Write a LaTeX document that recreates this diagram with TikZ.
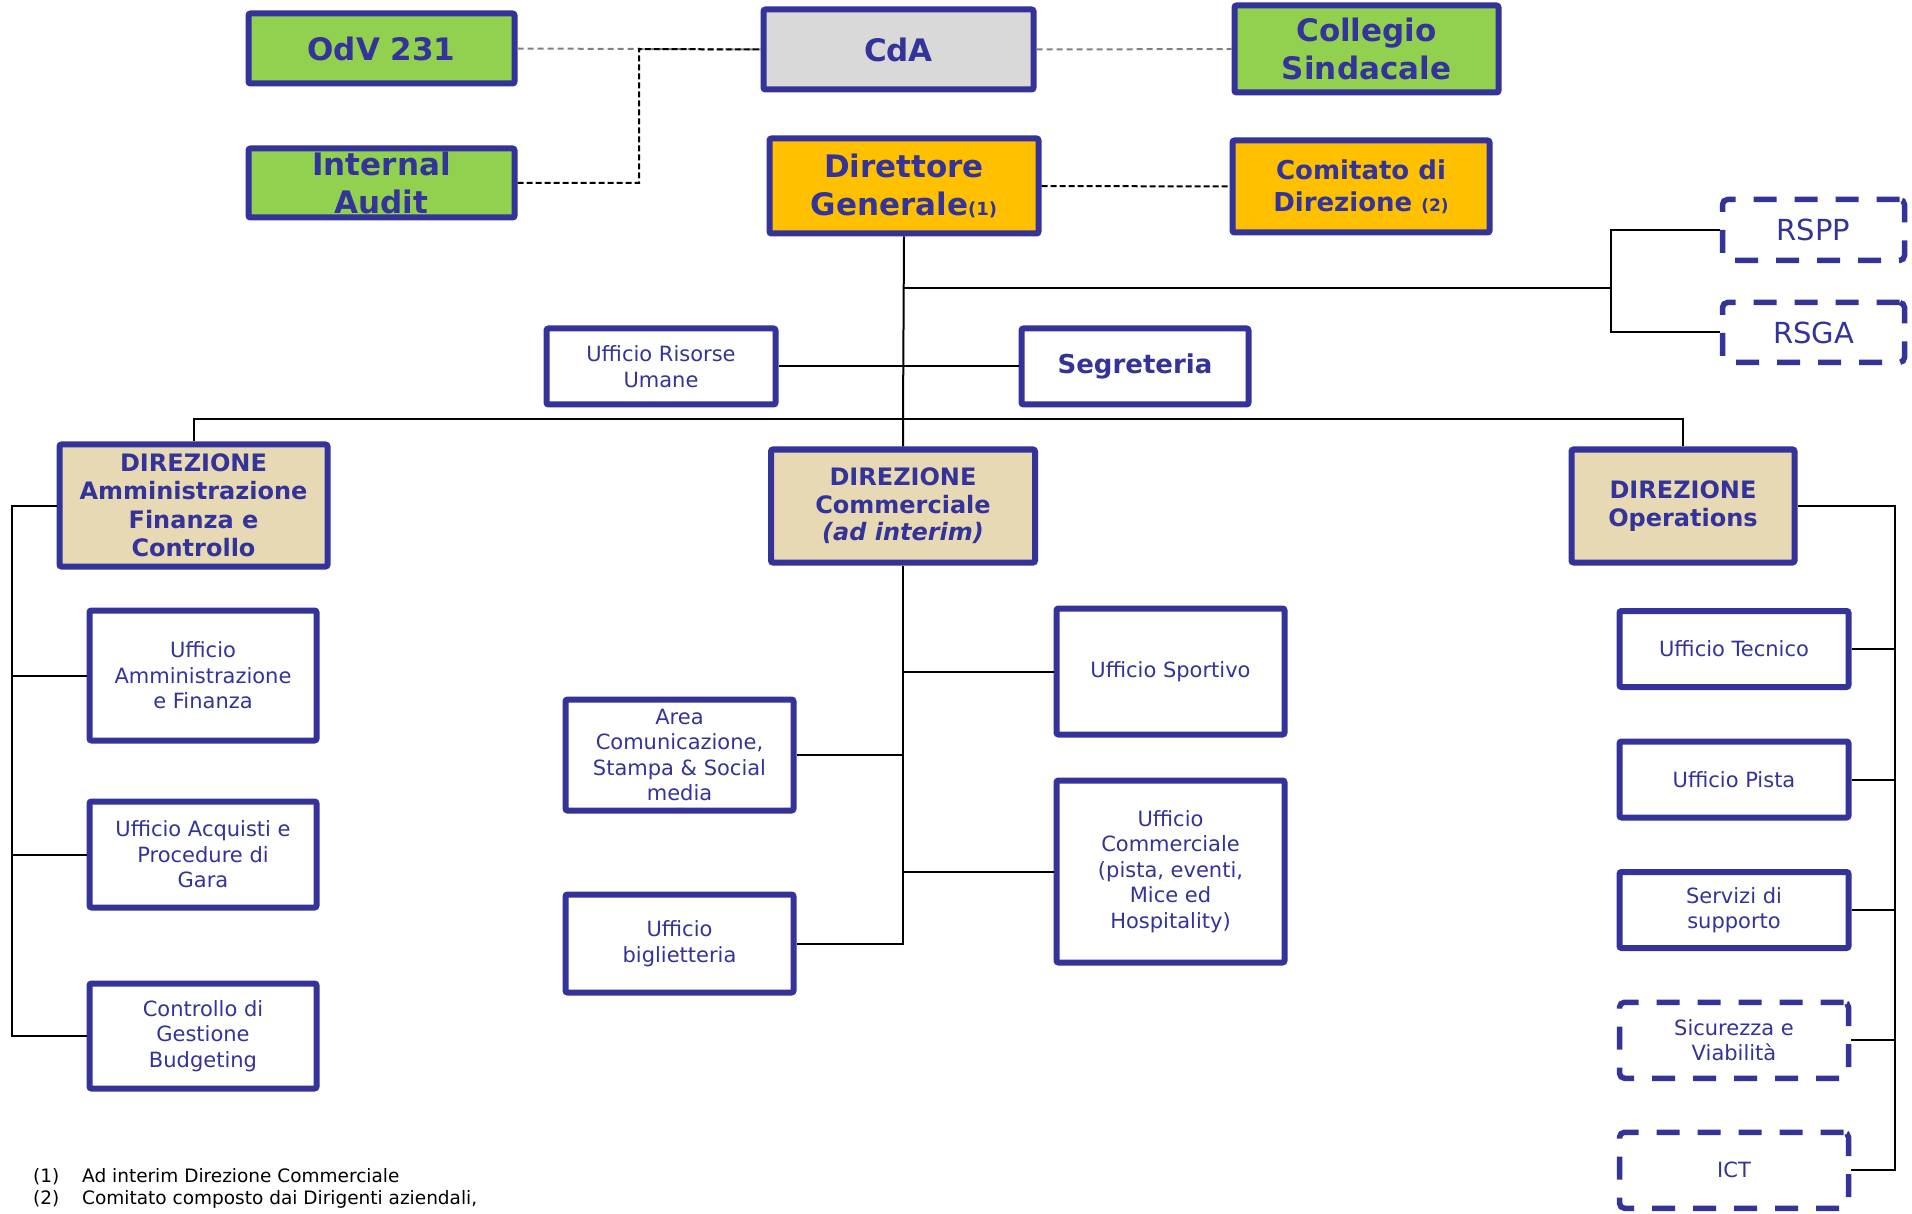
\documentclass[tikz,border=0pt]{standalone}
\usepackage{fontspec}
\setmainfont{DejaVu Sans}
\usepackage{xcolor}
\definecolor{colorBorder}{HTML}{333399}
\definecolor{colorBoard}{HTML}{92D050}
\definecolor{colorGeneral}{HTML}{FFC000}
\definecolor{colorDirection}{HTML}{E8D9B5}
\definecolor{colorCdA}{HTML}{D9D9D9}
\colorlet{colorLink}{black}
\colorlet{colorControl}{black!50}
\usepackage{tikz}
\usetikzlibrary{positioning}
\tikzset{
  box/.style={draw=colorBorder, line width=6pt, rounded corners=2pt, text=colorBorder, align=center, inner sep=0pt},
  boardbox/.style={box, fill=colorBoard, font=\bfseries\fontsize{31}{38}\selectfont},
  generalbox/.style={box, fill=colorGeneral},
  dirbox/.style={box, fill=colorDirection, font=\bfseries\fontsize{24}{28.5}\selectfont},
  unitbox/.style={box, fill=white, minimum width=227, font=\fontsize{21}{25.5}\selectfont},
  dashbox/.style={unitbox, line width=5.5pt, rounded corners=5pt, dash pattern=on 23pt off 18pt},
  link/.style={line width=2pt, colorLink},
  dlink/.style={line width=2pt, colorLink, dash pattern=on 6pt off 3pt},
  glink/.style={line width=2pt, colorControl, dash pattern=on 6pt off 4pt},
  note/.style={anchor=west, inner sep=0pt, font=\fontsize{18.5}{22}\selectfont}
}

\begin{document}
\begin{tikzpicture}[x=1pt, y=-1pt, node distance=48.5pt]
\useasboundingbox (0,0) rectangle (1912,1214);
% governance
\node[boardbox, minimum width=266, minimum height=70] (odv) at (381.5,48.5) {OdV 231};
\node[boardbox, fill=colorCdA, minimum width=270, minimum height=80] (cda) at (898.5,49.5) {CdA};
\node[boardbox, minimum width=264, minimum height=87] (cs) at (1366.5,49) {Collegio\\Sindacale};
\node[boardbox, minimum width=266, minimum height=69] (ia) at (381.5,183) {Internal\\Audit};
\node[generalbox, minimum width=269, minimum height=95, font=\bfseries\fontsize{31}{38}\selectfont] (dg) at (904,186) {Direttore\\Generale{\fontsize{18}{20}\selectfont(1)}};
\node[generalbox, minimum width=257, minimum height=92, font=\bfseries\fontsize{26}{32}\selectfont] (cdd) at (1361,186.5) {Comitato di\\Direzione {\fontsize{17}{20}\selectfont(2)}};
\node[dashbox, minimum width=182, minimum height=61, font=\fontsize{29}{34}\selectfont] (rspp) at (1813.5,230) {RSPP};
\node[dashbox, minimum width=182, minimum height=60, font=\fontsize{29}{34}\selectfont] (rsga) at (1813.5,332.5) {RSGA};
\node[unitbox, minimum width=229, minimum height=76] (uru) at (661,366.5) {Ufficio Risorse\\Umane};
\node[unitbox, minimum width=227, minimum height=76, font=\bfseries\fontsize{26}{30}\selectfont] (seg) at (1135,366.5) {Segreteria};
% directions
\node[dirbox, minimum width=268, minimum height=122] (dafc) at (193.5,505.5) {DIREZIONE\\Amministrazione\\Finanza e\\Controllo};
\node[dirbox, minimum width=264, minimum height=113, font=\bfseries\fontsize{24}{27.5}\selectfont] (dcom) at (903,506) {DIREZIONE\\Commerciale\\\textit{(ad interim)}};
\node[dirbox, minimum width=223, minimum height=113] (dops) at (1683,506) {DIREZIONE\\Operations};
% offices
\node[unitbox, minimum height=130] (uaf) at (203,675.5) {Ufficio\\Amministrazione\\e Finanza};
\node[unitbox, minimum height=106, below=55pt of uaf] (uap) {Ufficio Acquisti e\\Procedure di\\Gara};
\node[unitbox, minimum height=105, below=70pt of uap] (cdg) {Controllo di\\Gestione\\Budgeting};
\node[unitbox, minimum width=228, minimum height=111] (acs) at (679.5,755) {Area\\Comunicazione,\\Stampa \& Social\\media};
\node[unitbox, minimum width=228, minimum height=98, below=78pt of acs] (ubi) {Ufficio\\biglietteria};
\node[unitbox, minimum width=228, minimum height=126] (usp) at (1170.5,671.5) {Ufficio Sportivo};
\node[unitbox, minimum width=228, minimum height=182, below=40pt of usp] (uco) {Ufficio\\Commerciale\\(pista, eventi,\\Mice ed\\Hospitality)};
\node[unitbox, minimum width=229, minimum height=76] (ute) at (1734,649) {Ufficio Tecnico};
\node[unitbox, minimum width=229, minimum height=76, below=of ute] (upi) {Ufficio Pista};
\node[unitbox, minimum width=229, minimum height=76, below=of upi] (ssu) {Servizi di\\supporto};
\node[dashbox, minimum width=229, minimum height=76, below=of ssu] (sev) {Sicurezza e\\Viabilità};
\node[dashbox, minimum width=229, minimum height=76, below=of sev] (ict) {ICT};
% notes
\node[note] (fn1) at (33,1177) {\makebox[49pt][l]{(1)}Ad interim Direzione Commerciale};
\node[note] (fn2) at (33,1199) {\makebox[49pt][l]{(2)}Comitato composto dai Dirigenti aziendali,};
% junctions
\coordinate (iaj) at (639,49);
\coordinate (staff) at (1611,288);
\coordinate (bus) at (903,419);
\coordinate (lbus) at (12,505.5);
\coordinate (rbus) at (1895,506);
% control lines
\draw [glink] (odv.east) -- (cda.west);
\draw [glink] (cda.east) -- (cs.west);
\draw [dlink] (ia.east) -| (iaj) -- (cda.west);
\draw [dlink] (dg.east) -- (cdd.west);
% hierarchy
\draw [link] (dg.south) -- (bus) -- (dcom.north);
\draw [link] (dg.south |- staff) -- (staff);
\draw [link] (rspp.west) -| (staff) |- (rsga.west);
\draw [link] (uru.east) -- (seg.west);
\draw [link] (dafc.north) |- (bus) -| (dops.north);
\draw [link] (dafc.west) -- (lbus) |- (cdg.west);
\draw [link] (lbus |- uaf.west) -- (uaf.west);
\draw [link] (lbus |- uap.west) -- (uap.west);
\draw [link] (dcom.south) |- (ubi.east);
\draw [link] (dcom.south |- usp.west) -- (usp.west);
\draw [link] (dcom.south |- acs.east) -- (acs.east);
\draw [link] (dcom.south |- uco.west) -- (uco.west);
\draw [link] (dops.east) -- (rbus) |- (ict.east);
\foreach \u in {ute, upi, ssu, sev}
  \draw [link] (rbus |- \u.east) -- (\u.east);
\end{tikzpicture}
\end{document}
